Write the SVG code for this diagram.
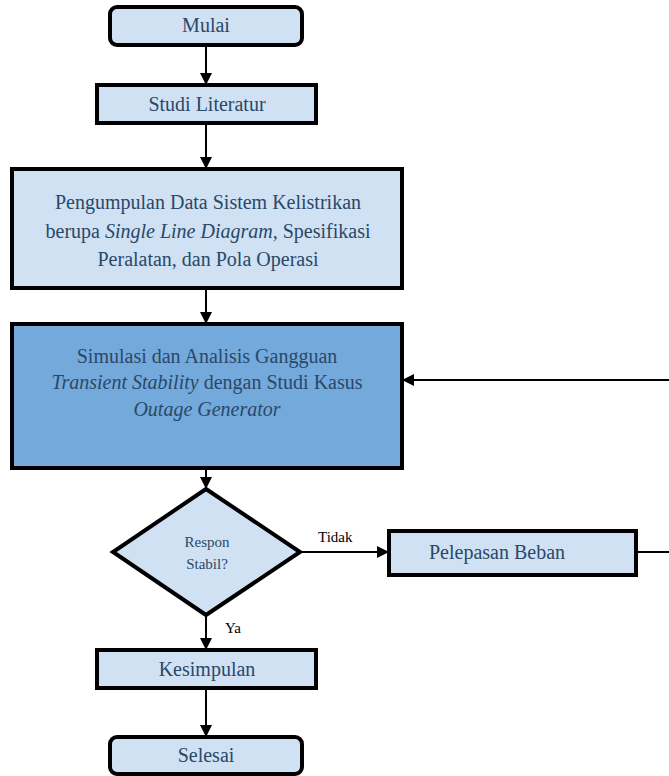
<svg xmlns="http://www.w3.org/2000/svg" width="669" height="776" viewBox="0 0 669 776">
  <defs>
    <marker id="arrowBig" viewBox="0 0 10 10" refX="10" refY="5" markerWidth="12" markerHeight="12" markerUnits="userSpaceOnUse" orient="auto">
      <path d="M0,0 L10,5 L0,10 z" fill="#000"/>
    </marker>
  </defs>
  <style>
    .box { fill: #cfe1f3; stroke: #000; stroke-width: 4; }
    .dark { fill: #74a9db; stroke: #000; stroke-width: 4; }
    text { font-family: 'Liberation Serif', 'Times New Roman', serif; }
    .lbl { font-size: 20px; fill: #2a4868; text-anchor: middle; }
    .small { font-size: 15px; fill: #2a4868; text-anchor: middle; }
    .edge { font-size: 15px; fill: #000; }
    .conn { fill: none; stroke: #000; stroke-width: 2; marker-end: url(#arrowBig); }
    .plain { fill: none; stroke: #000; stroke-width: 2; }
  </style>

  <rect width="669" height="776" fill="#fff"/>

  <g id="connectors">
    <line class="conn" x1="206" y1="45" x2="206" y2="85"/>
    <line class="conn" x1="206" y1="123" x2="206" y2="169"/>
    <line class="conn" x1="206" y1="288" x2="206" y2="324"/>
    <line class="conn" x1="206" y1="468" x2="206" y2="489"/>
    <line class="conn" x1="300" y1="552" x2="389" y2="552"/>
    <line class="plain" x1="636" y1="552" x2="669" y2="552"/>
    <line class="conn" x1="669" y1="380" x2="402" y2="380"/>
    <line class="conn" x1="206" y1="615" x2="206" y2="650"/>
    <line class="conn" x1="206" y1="688" x2="206" y2="737"/>
    <text class="edge" x="318" y="542">Tidak</text>
    <text class="edge" x="225" y="633">Ya</text>
  </g>

  <g id="mulai">
    <rect class="box" x="110" y="7" width="192" height="38" rx="7"/>
    <text class="lbl" x="206" y="32">Mulai</text>
  </g>

  <g id="studi-literatur">
    <rect class="box" x="97" y="85" width="219" height="38"/>
    <text class="lbl" x="207" y="111">Studi Literatur</text>
  </g>

  <g id="pengumpulan-data">
    <rect class="box" x="12" y="169" width="390" height="119"/>
    <text class="lbl" x="208" y="209">Pengumpulan  Data Sistem Kelistrikan</text>
    <text class="lbl" x="208" y="238">berupa <tspan font-style="italic">Single Line Diagram,</tspan> Spesifikasi</text>
    <text class="lbl" x="208" y="266">Peralatan,  dan Pola Operasi</text>
  </g>

  <g id="simulasi">
    <rect class="dark" x="12" y="324" width="390" height="144"/>
    <text class="lbl" x="207" y="363">Simulasi  dan Analisis  Gangguan</text>
    <text class="lbl" x="207" y="389"><tspan font-style="italic">Transient Stability</tspan> dengan  Studi Kasus</text>
    <text class="lbl" x="207" y="416" font-style="italic">Outage Generator</text>
  </g>

  <g id="respon-stabil">
    <polygon class="box" points="206,489 300,552 206,615 113,552"/>
    <text class="small" x="207" y="547">Respon</text>
    <text class="small" x="207" y="569">Stabil?</text>
  </g>

  <g id="pelepasan-beban">
    <rect class="box" x="389" y="531" width="247" height="44"/>
    <text class="lbl" x="497" y="559" font-size="19">Pelepasan Beban</text>
  </g>

  <g id="kesimpulan">
    <rect class="box" x="97" y="650" width="219" height="38"/>
    <text class="lbl" x="207" y="676">Kesimpulan</text>
  </g>

  <g id="selesai">
    <rect class="box" x="110" y="737" width="192" height="37" rx="7"/>
    <text class="lbl" x="206" y="762">Selesai</text>
  </g>
</svg>
